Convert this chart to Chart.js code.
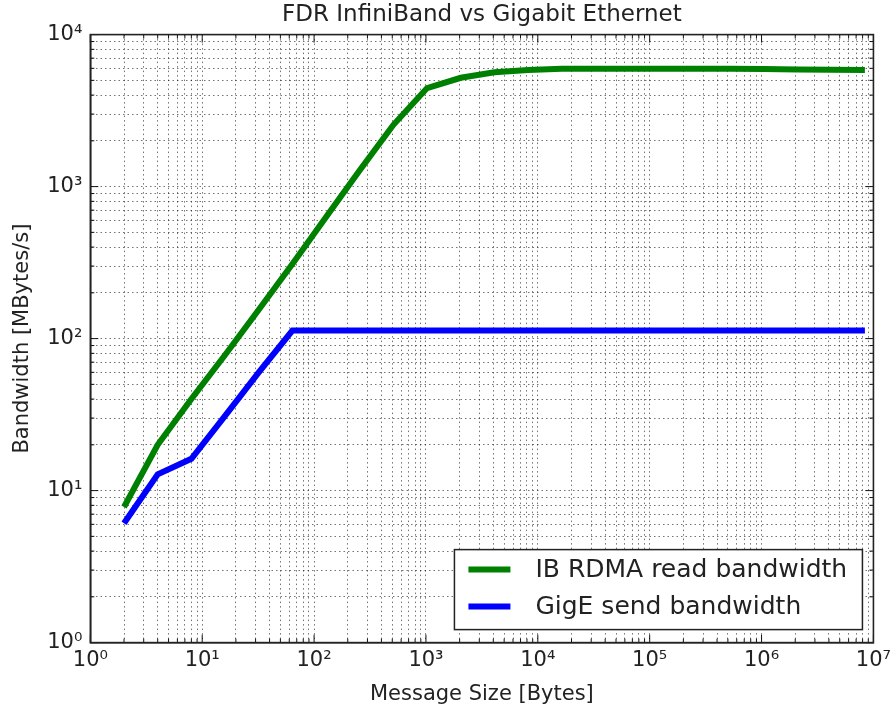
<!DOCTYPE html>
<html>
<head>
<meta charset="utf-8">
<script src="https://cdn.jsdelivr.net/npm/chart.js@4.4.1/dist/chart.umd.min.js"></script>
<style>
  html, body { margin: 0; padding: 0; background: #fff; }
  #wrap { width: 896px; height: 708px; }
</style>
</head>
<body>
<div id="wrap"><canvas id="bwChart"></canvas></div>
<script>
// message sizes in bytes
const messageSizes = [2, 4, 8, 16, 32, 64, 128, 256, 512, 1024, 2048, 4096, 8192,
  16384, 32768, 65536, 131072, 262144, 524288, 1048576, 2097152, 4194304, 8388608];

// bandwidth in MBytes/s
const ibRdmaRead = [7.8, 20, 40, 78, 155, 310, 630, 1280, 2550, 4450, 5200, 5650, 5850,
  5950, 5970, 5970, 5970, 5960, 5950, 5930, 5900, 5870, 5850];
const gigeSend = [6.1, 12.8, 16.2, 31, 60, 113, 113, 113, 113, 113, 113, 113, 113,
  113, 113, 113, 113, 113, 113, 113, 113, 113, 113];

const xDecades = [0, 1, 2, 3, 4, 5, 6, 7];
const yDecades = [0, 1, 2, 3, 4];
const minorSteps = [2, 3, 4, 5, 6, 7, 8, 9];

const SUP = ["⁰", "¹", "²", "³", "⁴", "⁵", "⁶", "⁷"];
const FONT = "'DejaVu Sans', sans-serif";

function isPow10(v) {
  const e = Math.log10(v);
  return Math.abs(e - Math.round(e)) < 1e-9;
}

function powLabel(v) {
  if (!isPow10(v)) return "";
  return "10" + SUP[Math.round(Math.log10(v))];
}

function logTicks(decades) {
  const ticks = [];
  decades.forEach((d, i) => {
    ticks.push({ value: Math.pow(10, d) });
    if (i < decades.length - 1) {
      minorSteps.forEach((m) => ticks.push({ value: m * Math.pow(10, d) }));
    }
  });
  return ticks;
}

function toPoints(ys) {
  return messageSizes.map((x, i) => ({ x: x, y: ys[i] }));
}

// frame round the plot plus matplotlib-style inward ticks
const framePlugin = {
  id: "frame",
  afterDraw(chart) {
    const { ctx, chartArea: a, scales } = chart;
    ctx.save();
    ctx.strokeStyle = "#111";
    ctx.lineWidth = 1;
    scales.x.ticks.forEach((t) => {
      const px = scales.x.getPixelForValue(t.value);
      const len = isPow10(t.value) ? 8 : 4;
      ctx.beginPath();
      ctx.moveTo(px, a.bottom);
      ctx.lineTo(px, a.bottom - len);
      ctx.moveTo(px, a.top);
      ctx.lineTo(px, a.top + len);
      ctx.stroke();
    });
    scales.y.ticks.forEach((t) => {
      const py = scales.y.getPixelForValue(t.value);
      const len = isPow10(t.value) ? 8 : 4;
      ctx.beginPath();
      ctx.moveTo(a.left, py);
      ctx.lineTo(a.left + len, py);
      ctx.moveTo(a.right, py);
      ctx.lineTo(a.right - len, py);
      ctx.stroke();
    });
    ctx.lineWidth = 1.6;
    ctx.strokeStyle = "#222";
    ctx.strokeRect(a.left, a.top, a.right - a.left, a.bottom - a.top);
    ctx.restore();
  },
};

// legend box in the lower right corner of the plot
const legendPlugin = {
  id: "boxLegend",
  afterDraw(chart) {
    const { ctx, chartArea: a } = chart;
    const sets = chart.data.datasets;
    const boxW = 408, rowH = 37, boxH = 80;
    const x0 = a.right - 11 - boxW;
    const y0 = a.bottom - 13 - boxH;
    ctx.save();
    ctx.fillStyle = "#fff";
    ctx.fillRect(x0, y0, boxW, boxH);
    ctx.strokeStyle = "#222";
    ctx.lineWidth = 1.5;
    ctx.strokeRect(x0, y0, boxW, boxH);
    ctx.font = "25px " + FONT;
    ctx.textBaseline = "middle";
    sets.forEach((ds, i) => {
      const cy = y0 + 20 + i * rowH;
      ctx.strokeStyle = ds.borderColor;
      ctx.lineWidth = 6;
      ctx.beginPath();
      ctx.moveTo(x0 + 14, cy);
      ctx.lineTo(x0 + 56, cy);
      ctx.stroke();
      ctx.fillStyle = "#222";
      ctx.fillText(ds.label, x0 + 81, cy + 1);
    });
    ctx.restore();
  },
};

const gridStyle = {
  color: "rgba(0,0,0,0.55)",
  lineWidth: 1,
  drawTicks: false,
};
const borderStyle = {
  display: true,
  color: "#222",
  width: 1.5,
  dash: [1.5, 3],
};

const ctx = document.getElementById("bwChart").getContext("2d");
const chart = new Chart(ctx, {
  type: "line",
  data: {
    datasets: [
      {
        label: "IB RDMA read bandwidth",
        data: toPoints(ibRdmaRead),
        borderColor: "#008000",
        borderWidth: 6,
        pointRadius: 0,
        fill: false,
      },
      {
        label: "GigE send bandwidth",
        data: toPoints(gigeSend),
        borderColor: "#0000ff",
        borderWidth: 6,
        pointRadius: 0,
        fill: false,
      },
    ],
  },
  options: {
    responsive: true,
    maintainAspectRatio: false,
    animation: false,
    layout: { padding: { left: 6, right: 12, top: 0, bottom: 1 } },
    plugins: {
      legend: { display: false },
      tooltip: { enabled: false },
      title: {
        display: true,
        fullSize: false,
        text: "FDR InfiniBand vs Gigabit Ethernet",
        color: "#222",
        font: { family: FONT, size: 23, weight: "normal" },
        padding: { top: 1, bottom: 6 },
      },
    },
    scales: {
      x: {
        type: "logarithmic",
        min: 1,
        max: 1e7,
        afterBuildTicks: (scale) => {
          scale.ticks = logTicks(xDecades);
        },
        ticks: {
          autoSkip: false,
          maxRotation: 0,
          padding: 5,
          color: "#222",
          font: { family: FONT, size: 21 },
          callback: (v) => powLabel(v),
        },
        grid: gridStyle,
        border: borderStyle,
        title: {
          display: true,
          text: "Message Size [Bytes]",
          color: "#222",
          font: { family: FONT, size: 21 },
          padding: { top: 4, bottom: 0 },
        },
      },
      y: {
        type: "logarithmic",
        min: 1,
        max: 1e4,
        afterBuildTicks: (scale) => {
          scale.ticks = logTicks(yDecades);
        },
        ticks: {
          autoSkip: false,
          padding: 8,
          color: "#222",
          font: { family: FONT, size: 21 },
          callback: (v) => powLabel(v),
        },
        grid: gridStyle,
        border: borderStyle,
        title: {
          display: true,
          text: "Bandwidth [MBytes/s]",
          color: "#222",
          font: { family: FONT, size: 21 },
          padding: { top: 4, bottom: 4 },
        },
      },
    },
  },
  plugins: [framePlugin, legendPlugin],
});
</script>
</body>
</html>
